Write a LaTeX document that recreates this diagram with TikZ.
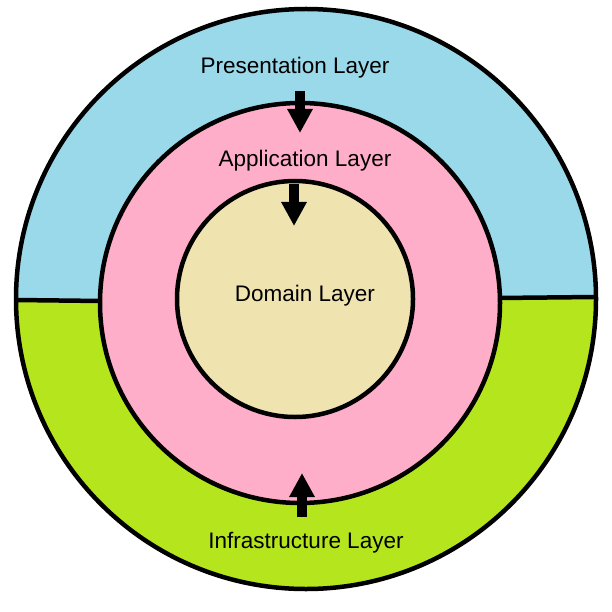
\documentclass[tikz,border=0pt]{standalone}
\usepackage{fontspec}
\setmainfont{Liberation Sans}
\usetikzlibrary{arrows.meta}
\definecolor{presblue}{RGB}{153, 217, 234}
\definecolor{appink}{RGB}{255, 174, 201}
\definecolor{infragreen}{RGB}{181, 230, 29}
\definecolor{domainbeige}{RGB}{239, 228, 176}

\begin{document}
\begin{tikzpicture}[
  x=1pt, y=-1pt,
  every node/.style={font=\fontsize{22.5}{27}\selectfont},
  ring/.style={draw=black, line width=4.5pt, fill=#1},
  layerarrow/.style={-{Triangle[length=24pt, width=24pt]}, line width=10pt, black}
]
\useasboundingbox (0,0) rectangle (612,612);

% ── Outer ring: presentation (top) / infrastructure (bottom) ──────────────────
\fill[presblue] (306,299) circle[radius=290pt];
\begin{scope}
  \clip (0,300) -- (612,297) -- (612,612) -- (0,612) -- cycle;
  \fill[infragreen] (306,299) circle[radius=290pt];
\end{scope}
\draw[black, line width=4.5pt] (306,299) circle[radius=290pt];

\coordinate (lo) at (16,300);
\coordinate (li) at (102,301);
\coordinate (ri) at (498,298);
\coordinate (ro) at (596,297);
\draw[black, line width=4.5pt] (lo) -- (li);
\draw[black, line width=4.5pt] (ri) -- (ro);

% ── Application ring and domain core ──────────────────────────────────────────
\draw[ring=appink] (300,303) circle[radius=200pt];
\draw[ring=domainbeige] (295,299) circle[radius=118pt];

% ── Labels ────────────────────────────────────────────────────────────────────
\node (pres)   at (295,68)  {Presentation Layer};
\node (app)    at (305,161) {Application Layer};
\node (domain) at (305,296) {Domain Layer};
\node (infra)  at (306,543) {Infrastructure Layer};

% arrows between layers
\coordinate (p1) at (300,91);
\coordinate (p2) at (300,133);
\coordinate (a1) at (294,184);
\coordinate (a2) at (294,226);
\coordinate (i1) at (302,517);
\coordinate (i2) at (302,473);
\draw[layerarrow] (p1) -- (p2);
\draw[layerarrow] (a1) -- (a2);
\draw[layerarrow] (i1) -- (i2);

\end{tikzpicture}
\end{document}
